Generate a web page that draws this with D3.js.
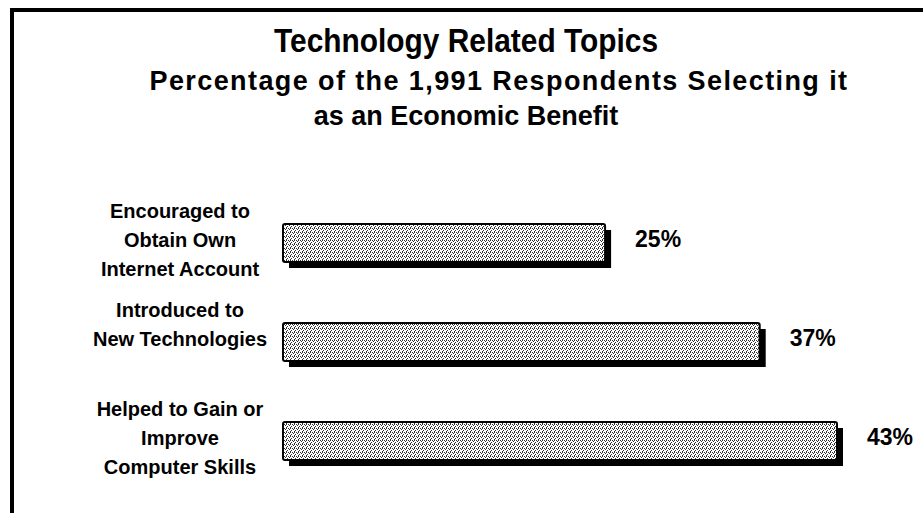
<!DOCTYPE html>
<html>
<head>
<meta charset="utf-8">
<script src="https://cdn.jsdelivr.net/npm/d3@7"></script>
<style>
  body { margin: 0; background: #fff; }
  text { font-family: "Liberation Sans", Arial, sans-serif; font-weight: bold; fill: #000; }
</style>
</head>
<body>
<div id="chart"></div>
<script>
var width = 923, height = 513;

// data
var categories = [
  ["Encouraged to", "Obtain Own", "Internet Account"],
  ["Introduced to", "New Technologies"],
  ["Helped to Gain or", "Improve", "Computer Skills"]
];
var values = [25, 37, 43];
var valueLabels = ["25%", "37%", "43%"];
var titleLines = ["Technology Related Topics"];
var subtitleLines = ["Percentage of the 1,991 Respondents Selecting it", "as an Economic Benefit"];

var svg = d3.select("#chart").append("svg")
    .attr("width", width)
    .attr("height", height)

// stipple fill like the printed bars
var defs = svg.append("defs")
var pat = defs.append("pattern")
    .attr("id", "stipple")
    .attr("width", 4)
    .attr("height", 4)
    .attr("patternUnits", "userSpaceOnUse")
pat.append("rect").attr("width", 4).attr("height", 4).attr("fill", "#fff")
var dots = [[0,0],[2,0],[1,1],[3,2],[2,3]]
pat.selectAll("rect.d").data(dots).enter().append("rect")
    .attr("class", "d")
    .attr("x", function(d){ return d[0] })
    .attr("y", function(d){ return d[1] })
    .attr("width", 1).attr("height", 1)
    .attr("fill", "#333")

// frame (only top and left show in the crop)
svg.append("path")
    .attr("d", "M12,513 V10 H923")
    .attr("fill", "none")
    .attr("stroke", "#000")
    .attr("stroke-width", 4)

// titles
svg.append("text")
    .attr("x", 466).attr("y", 52)
    .attr("text-anchor", "middle")
    .attr("textLength", 384)
    .attr("lengthAdjust", "spacingAndGlyphs")
    .style("font-size", "33px")
    .text(titleLines[0])

var subX = [499, 466]
svg.selectAll("text.sub")
    .data(subtitleLines)
    .enter().append("text")
    .attr("class", "sub")
    .attr("x", function(d,i){ return subX[i] })
    .attr("y", function(d,i){ return 90 + i*35 })
    .attr("text-anchor", "middle")
    .style("font-size", "27px")
    .style("letter-spacing", function(d,i){ return i == 0 ? "1.4px" : "0px" })
    .text(function(d){ return d })

// scales
var x = d3.scaleLinear().domain([0, 43]).range([283, 837])
var y = d3.scaleBand().domain(d3.range(values.length)).range([163, 521]).padding(0.616)

var bars = svg.selectAll("g.bar")
    .data(values)
    .enter().append("g")
    .attr("class", "bar")

// drop shadow
bars.append("rect")
    .attr("x", x(0) + 6)
    .attr("y", function(d,i){ return y(i) + 6 })
    .attr("width", function(d){ return x(d) - x(0) })
    .attr("height", y.bandwidth())
    .attr("fill", "#000")

bars.append("rect")
    .attr("x", x(0))
    .attr("y", function(d,i){ return y(i) })
    .attr("width", function(d){ return x(d) - x(0) })
    .attr("height", y.bandwidth())
    .attr("rx", 2)
    .attr("fill", "url(#stipple)")
    .attr("stroke", "#000")
    .attr("stroke-width", 2)

// value labels
bars.append("text")
    .attr("x", function(d){ return x(d) + 30 })
    .attr("y", function(d,i){ return y(i) + y.bandwidth()/2 - 4 })
    .attr("dy", "0.35em")
    .style("font-size", "23px")
    .text(function(d,i){ return valueLabels[i] })

// category labels, top aligned with 29px line spacing
bars.each(function(d,i){
  var g = d3.select(this)
  g.selectAll("text.cat")
    .data(categories[i])
    .enter().append("text")
    .attr("class", "cat")
    .attr("x", 180)
    .attr("y", function(t,j){ return y(i) + y.bandwidth()/2 - 32 + j*29 })
    .attr("dy", "0.35em")
    .attr("text-anchor", "middle")
    .style("font-size", "20px")
    .text(function(t){ return t })
})
</script>
</body>
</html>
